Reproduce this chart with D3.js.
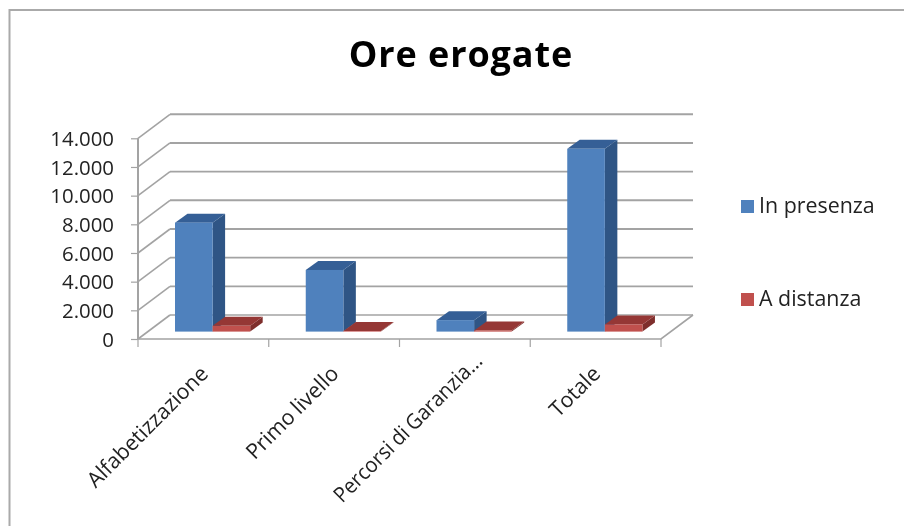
<!DOCTYPE html>
<html><head><meta charset="utf-8">
<script src="https://cdn.jsdelivr.net/npm/d3@7"></script>
<style>
html,body{margin:0;padding:0;background:#fff;overflow:hidden}
svg{display:block;filter:blur(0.45px)}
text{font-family:"Open Sans",sans-serif;fill:#222}
</style></head><body>
<svg id="c" width="904" height="526"></svg>
<script>
const categories = ["Alfabetizzazione","Primo livello","Percorsi di Garanzia...","Totale"];
const seriesNames = ["In presenza","A distanza"];
const inPresenza = [7600,4300,800,12750];
const aDistanza = [400,40,80,500];
const yTicks = [0,2000,4000,6000,8000,10000,12000,14000];
const titleText = "Ore erogate";

const seriesValues = [inPresenza,aDistanza];
const faces = [
  {front:"#4F81BD",side:"#2F5585",top:"#355F96"},
  {front:"#C0504D",side:"#7E2E2C",top:"#953735"}
];
const svg = d3.select("#c");
const fmt = d3.formatLocale({decimal:",",thousands:".",grouping:[3],currency:["€",""]}).format(",d");

// frame
svg.append("path").attr("d","M9.5,526V10H904").attr("fill","none").attr("stroke","#aaa").attr("stroke-width",2);

svg.append("text").attr("x",461).attr("y",67).attr("text-anchor","middle")
  .attr("font-size",36).attr("font-weight",700).attr("letter-spacing",0.9).style("fill","#000").text(titleText);

const x = d3.scaleBand().domain(d3.range(categories.length)).range([138,661]);
const y = d3.scaleLinear().domain([0,14000]).range([339,138.3]);
const wallDx = 32, wallDy = -24;        // depth of the plot box
const barDepthDx = 12.5, barDepthDy = -9; // depth of a bar
const floorDy = -7.4;                   // bar front plane relative to the front axis
const groupInset = 37;                  // first bar's left edge from the band start
const barW = 37.6;
const inner = d3.scaleBand().domain(d3.range(seriesNames.length)).range([0,barW*2]);

const gridCol="#a3a3a3";
const g = svg.append("g").attr("fill","none").attr("stroke",gridCol);
yTicks.forEach(v=>{
  const yy=y(v);
  g.append("path").attr("stroke-width",1.6).attr("d",`M${x.range()[0]},${yy}L${x.range()[0]+wallDx},${yy+wallDy}`);
  g.append("path").attr("stroke-width",v===0?1.4:1.9).attr("d",`M${x.range()[0]+wallDx},${yy+wallDy}H${x.range()[1]+wallDx}`);
});
// floor front and right edge
g.append("path").attr("stroke-width",1.6).attr("d",`M${x.range()[0]},${y(0)}H${x.range()[1]}L${x.range()[1]+wallDx},${y(0)+wallDy}`);

// axes
const axL = d3.axisLeft(y).tickValues(yTicks).tickFormat(fmt).tickSize(7).tickPadding(17);
const gy = svg.append("g").attr("transform",`translate(${x.range()[0]},0)`).call(axL);
gy.select(".domain").attr("stroke",gridCol).attr("stroke-width",2).attr("d",`M0,${y(14000)}V${y(0)}`);
gy.selectAll("line").attr("stroke",gridCol).attr("stroke-width",1.2);
gy.selectAll("text").attr("font-size",20.4).attr("dy","0.35em").style("fill","#222");
gy.attr("font-family",null);

const ticksX = d3.range(categories.length+1).map(i=>i===categories.length?x.range()[1]:x(i));
svg.append("g").selectAll("line").data(ticksX).join("line")
  .attr("x1",d=>d).attr("x2",d=>d).attr("y1",y(0)).attr("y2",y(0)+8)
  .attr("stroke",gridCol).attr("stroke-width",1.2);

// bars
categories.forEach((c,i)=>{
  seriesNames.forEach((s,k)=>{
    const f=faces[k], v=seriesValues[k][i];
    const x0=x(i)+groupInset+inner(k), x1=x0+barW;
    const y0=y(0)+floorDy, yt=y(v)+floorDy;
    const b=svg.append("g");
    b.append("path").attr("fill",f.side).attr("d",`M${x1},${y0}L${x1+barDepthDx},${y0+barDepthDy}V${yt+barDepthDy}L${x1},${yt}Z`);
    b.append("path").attr("fill",f.top).attr("d",`M${x0},${yt}L${x0+barDepthDx},${yt+barDepthDy}H${x1+barDepthDx}L${x1},${yt}Z`);
    b.append("rect").attr("x",x0).attr("y",yt).attr("width",barW).attr("height",Math.max(0,y0-yt)).attr("fill",f.front);
  });
});

// category labels: long labels are squeezed to a maximum run and slid toward the axis
const maxLabelRun = 200;
svg.append("g").selectAll("text").data(categories).join("text")
  .attr("font-size",21.3).attr("text-anchor","end").attr("word-spacing",-1)
  .attr("transform",(d,i)=>`translate(${x(i)+x.bandwidth()/2+6},${y(0)+36}) rotate(-45)`)
  .text(d=>d)
  .each(function(){
    if(this.getComputedTextLength()>maxLabelRun){
      d3.select(this).attr("textLength",maxLabelRun).attr("lengthAdjust","spacingAndGlyphs").attr("dx",18);
    }
  });

// legend
const lg = svg.append("g").selectAll("g").data(seriesNames).join("g")
  .attr("transform",(d,i)=>`translate(741,${200+i*93})`);
lg.append("rect").attr("width",13).attr("height",13).attr("fill",(d,i)=>faces[i].front);
lg.append("text").attr("x",18).attr("y",13).attr("font-size",21.4).text(d=>d);
</script>
</body></html>
